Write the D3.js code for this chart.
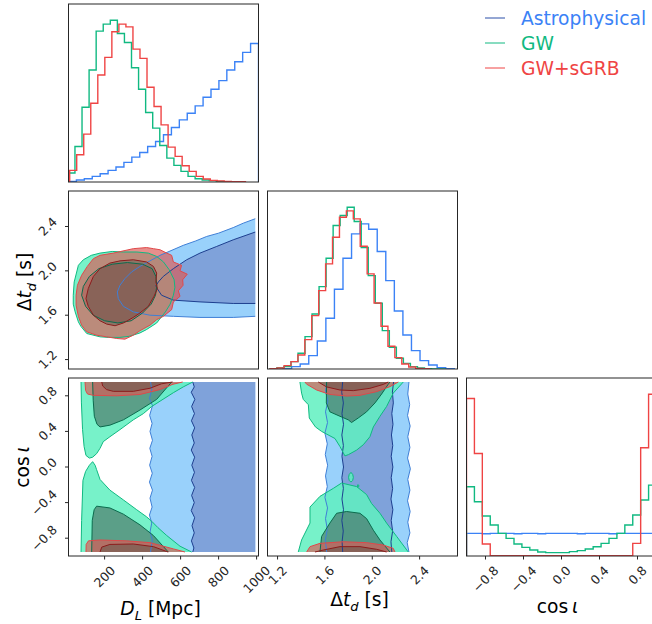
<!DOCTYPE html>
<html>
<head>
<meta charset="utf-8">
<script src="https://cdn.jsdelivr.net/npm/d3@7"></script>
<style>
  html, body { margin: 0; padding: 0; background: #fff; }
  svg { display: block; font-family: "DejaVu Sans", sans-serif; }
</style>
</head>
<body>
<svg id="chart" width="652" height="624"></svg>
<script>
// ---------------- data ----------------
const seriesNames = ["Astrophysical", "GW", "GW+sGRB"];
const seriesKeys = ["astro", "gw", "grb"];

const dlDomain = [10, 1010];
const dtDomain = [1.115, 2.72];
const cosDomain = [-1, 1];
const dlTicks = [200, 400, 600, 800, 1000];
const dtTicks = [1.2, 1.6, 2.0, 2.4];
const cosTicks = [-0.8, -0.4, 0.0, 0.4, 0.8];

// 1-D marginals: bin range [lo, hi] and bin heights
const dlAstroRange = [10, 1010];
const dlAstroHist = [2, 6, 10, 17, 25, 35, 45, 59, 75, 89, 107, 122, 142, 164, 187, 207, 229, 255, 279, 305, 337, 362, 390, 417];
const dlGwRange = [6.8, 899.6];
const dlGwHist = [27, 107, 225, 337, 454, 475, 487, 447, 420, 344, 279, 209, 162, 110, 72, 50, 32, 17, 10, 6, 4, 2, 1, 0];
const dlGrbRange = [16.2, 941.2];
const dlGrbHist = [35, 82, 144, 237, 322, 375, 452, 475, 467, 400, 372, 285, 227, 172, 105, 77, 49, 32, 17, 9, 5, 3, 2, 1, 1];

const dtAstroRange = [1.2466, 2.6926];
const dtAstroHist = [1, 7, 15, 40, 84, 152, 239, 332, 405, 435, 419, 352, 265, 174, 102, 55, 25, 12, 4, 1];
const dtGwRange = [1.1353, 2.619];
const dtGwHist = [1, 4, 7, 22, 47, 97, 165, 247, 332, 430, 460, 485, 442, 364, 280, 197, 115, 65, 32, 17, 7, 3, 1, 0, 0];
const dtGrbRange = [1.1378, 2.4834];
const dtGrbHist = [1, 3, 10, 22, 42, 88, 160, 235, 315, 395, 455, 474, 450, 368, 285, 198, 128, 68, 34, 15, 6, 2, 1];

const cosRange = [-1, 1];
const cosAstroHist = [68, 68, 67, 68, 68, 68, 67, 68, 68, 67, 68, 68, 68, 68, 67, 68, 68, 68, 67, 68, 68, 68, 68, 68];
const cosGwHist = [208, 163, 120, 93, 68, 53, 36, 26, 18, 12, 10, 10, 10, 13, 16, 21, 28, 38, 53, 68, 93, 123, 168, 213];
const cosGrbHist = [473, 308, 36, 1, 1, 1, 1, 1, 1, 1, 1, 1, 1, 1, 1, 1, 1, 1, 1, 1, 1, 38, 325, 486];

// 2-D credible regions (outer, inner), as [x, y] vertices in data units
// panel: D_L vs Δt_d
const dlDtAstroOuter = [[993,2.47],[930,2.43],[877,2.39],[800,2.34],[737,2.31],[680,2.27],[614,2.23],[560,2.19],[492,2.14],[439,2.09],[386,2.04],[342,1.99],[307,1.93],[281,1.87],[267,1.81],[272,1.75],[299,1.68],[351,1.63],[439,1.60],[562,1.59],[702,1.58],[877,1.58],[993,1.59]];
const dlDtAstroInner = [[993,2.35],[877,2.28],[790,2.22],[702,2.16],[632,2.10],[562,2.02],[509,1.95],[483,1.90],[470,1.865],[477,1.84],[500,1.78],[562,1.736],[702,1.72],[877,1.706],[993,1.706]];
const dlDtGwOuter = [[35,1.78],[40,1.90],[62,2.05],[88,2.10],[130,2.14],[176,2.16],[240,2.175],[300,2.17],[370,2.17],[430,2.16],[474,2.13],[510,2.08],[540,2.01],[566,1.92],[570,1.85],[562,1.78],[545,1.70],[520,1.63],[474,1.53],[420,1.47],[386,1.44],[330,1.41],[281,1.40],[220,1.40],[176,1.405],[106,1.435],[75,1.50],[62,1.54],[45,1.63],[35,1.70]];
const dlDtGwInner = [[79,1.78],[88,1.86],[120,1.95],[170,2.02],[240,2.06],[320,2.075],[400,2.06],[450,2.02],[470,1.95],[475,1.87],[468,1.78],[445,1.70],[400,1.62],[340,1.55],[270,1.53],[200,1.55],[140,1.60],[100,1.68]];
const dlDtGrbOuter = [[50,1.78],[57,1.87],[79,1.96],[109,2.04],[141,2.11],[176,2.14],[246,2.16],[351,2.20],[421,2.21],[457,2.20],[492,2.19],[527,2.16],[553,2.14],[562,2.08],[605,2.05],[597,2.00],[635,1.97],[611,1.92],[613,1.87],[588,1.82],[597,1.77],[562,1.72],[553,1.65],[509,1.59],[474,1.56],[439,1.51],[386,1.46],[351,1.42],[307,1.384],[264,1.39],[211,1.405],[158,1.42],[106,1.45],[79,1.51],[62,1.59],[50,1.69]];
const dlDtGrbInner = [[102,1.75],[114,1.84],[141,1.95],[176,2.02],[228,2.07],[281,2.09],[351,2.10],[421,2.08],[457,2.04],[474,1.98],[470,1.90],[478,1.84],[460,1.77],[430,1.68],[386,1.62],[351,1.58],[299,1.53],[255,1.505],[211,1.52],[176,1.55],[141,1.60],[114,1.68]];

// panel: D_L vs cos ι
const dlCosAstroOuter = [[442,0.955],[448,0.87],[436,0.77],[452,0.69],[437,0.58],[450,0.49],[439,0.40],[452,0.30],[438,0.21],[450,0.12],[437,0.02],[451,-0.07],[436,-0.17],[452,-0.26],[439,-0.35],[450,-0.45],[436,-0.54],[448,-0.63],[439,-0.73],[451,-0.82],[442,-0.955],[993,-0.955],[993,0.955]];
const dlCosAstroInner = [[664,0.955],[672,0.90],[656,0.84],[675,0.76],[658,0.68],[673,0.60],[657,0.52],[674,0.44],[659,0.36],[672,0.27],[656,0.19],[674,0.11],[659,0.02],[673,-0.06],[657,-0.15],[674,-0.23],[658,-0.32],[672,-0.40],[656,-0.49],[674,-0.57],[660,-0.66],[672,-0.74],[657,-0.83],[670,-0.91],[664,-0.955],[993,-0.955],[993,0.955]];
const dlCosGwOuterTop = [[76,0.955],[78,0.72],[84,0.42],[92,0.23],[102,0.13],[120,0.10],[137,0.11],[158,0.15],[176,0.21],[193,0.285],[228,0.34],[281,0.42],[351,0.53],[404,0.60],[448,0.68],[492,0.74],[562,0.835],[614,0.90],[664,0.955]];
const dlCosGwOuterBottom = [[76,-0.955],[79,-0.60],[86,-0.15],[100,-0.05],[120,0.02],[137,0.06],[150,0.02],[158,-0.03],[176,-0.14],[228,-0.26],[299,-0.37],[369,-0.48],[421,-0.56],[448,-0.61],[480,-0.68],[527,-0.77],[597,-0.89],[658,-0.955]];
const dlCosGwInnerTop = [[137,0.955],[140,0.75],[146,0.57],[160,0.48],[176,0.45],[228,0.47],[299,0.53],[386,0.64],[474,0.76],[553,0.955]];
const dlCosGwInnerBottom = [[132,-0.955],[135,-0.60],[145,-0.48],[158,-0.44],[228,-0.46],[299,-0.53],[386,-0.65],[457,-0.77],[535,-0.955]];
const dlCosGrbOuterTop = [[97,0.955],[100,0.86],[110,0.82],[141,0.805],[264,0.80],[386,0.815],[492,0.87],[560,0.93],[611,0.955]];
const dlCosGrbInnerTop = [[185,0.955],[190,0.91],[210,0.87],[246,0.85],[351,0.85],[439,0.885],[500,0.935],[558,0.955]];
const dlCosGrbOuterBottom = [[102,-0.955],[103,-0.87],[115,-0.83],[176,-0.82],[316,-0.83],[439,-0.85],[562,-0.92],[623,-0.955]];
const dlCosGrbInnerBottom = [[176,-0.955],[185,-0.90],[228,-0.87],[351,-0.865],[457,-0.895],[527,-0.95],[535,-0.955]];

// panel: Δt_d vs cos ι
const dtCosAstroOuter = [[1.615,0.955],[1.605,0.85],[1.625,0.74],[1.605,0.62],[1.622,0.50],[1.60,0.38],[1.62,0.26],[1.603,0.14],[1.623,0.02],[1.605,-0.10],[1.62,-0.22],[1.60,-0.34],[1.622,-0.46],[1.605,-0.58],[1.62,-0.70],[1.603,-0.82],[1.615,-0.955],[2.31,-0.955],[2.295,-0.85],[2.318,-0.74],[2.30,-0.62],[2.32,-0.50],[2.298,-0.38],[2.318,-0.26],[2.30,-0.14],[2.322,-0.02],[2.298,0.10],[2.318,0.22],[2.30,0.34],[2.32,0.46],[2.298,0.58],[2.316,0.70],[2.30,0.82],[2.31,0.955]];
const dtCosAstroInner = [[1.750,0.955],[1.742,0.84],[1.756,0.72],[1.744,0.60],[1.757,0.48],[1.743,0.36],[1.756,0.24],[1.744,0.12],[1.757,0.00],[1.743,-0.12],[1.756,-0.24],[1.744,-0.36],[1.757,-0.48],[1.743,-0.60],[1.755,-0.72],[1.745,-0.84],[1.750,-0.955],[2.165,-0.955],[2.158,-0.84],[2.172,-0.72],[2.160,-0.60],[2.174,-0.48],[2.158,-0.36],[2.172,-0.24],[2.160,-0.12],[2.174,0.00],[2.160,0.12],[2.173,0.24],[2.162,0.36],[2.175,0.48],[2.165,0.60],[2.178,0.72],[2.170,0.84],[2.180,0.955]];
const dtCosGwOuterTop = [[1.389,0.955],[1.403,0.83],[1.417,0.76],[1.460,0.70],[1.468,0.55],[1.52,0.45],[1.572,0.40],[1.685,0.32],[1.727,0.23],[1.769,0.125],[1.80,0.14],[1.868,0.19],[1.924,0.25],[1.980,0.34],[2.009,0.45],[2.065,0.57],[2.121,0.68],[2.177,0.83],[2.262,0.955]];
const dtCosGwInnerTop = [[1.614,0.955],[1.612,0.72],[1.642,0.62],[1.727,0.57],[1.797,0.53],[1.825,0.50],[1.881,0.55],[1.952,0.62],[2.023,0.72],[2.079,0.82],[2.135,0.93],[2.15,0.955]];
const dtCosGwOuterBottom = [[1.375,-0.955],[1.403,-0.82],[1.474,-0.63],[1.474,-0.45],[1.558,-0.33],[1.671,-0.24],[1.741,-0.18],[1.868,-0.22],[1.952,-0.31],[1.994,-0.41],[2.065,-0.52],[2.121,-0.63],[2.206,-0.78],[2.304,-0.955]];
const dtCosGwInnerBottom = [[1.558,-0.955],[1.572,-0.78],[1.642,-0.63],[1.699,-0.52],[1.783,-0.50],[1.896,-0.52],[1.952,-0.58],[2.009,-0.71],[2.065,-0.82],[2.149,-0.955]];
const dtCosGwIsland = [[1.82,-0.06],[1.835,-0.085],[1.84,-0.115],[1.835,-0.15],[1.82,-0.17],[1.805,-0.15],[1.80,-0.115],[1.805,-0.085]];
const dtCosGwDot = [[1.876,-0.20],[1.886,-0.203],[1.886,-0.222],[1.876,-0.225]];
const dtCosGrbOuterTop = [[1.431,0.955],[1.446,0.93],[1.530,0.865],[1.642,0.815],[1.783,0.797],[1.896,0.805],[2.037,0.847],[2.149,0.903],[2.220,0.955]];
const dtCosGrbInnerTop = [[1.544,0.955],[1.614,0.90],[1.727,0.865],[1.840,0.858],[1.980,0.884],[2.093,0.928],[2.135,0.955]];
const dtCosGrbOuterBottom = [[1.446,-0.955],[1.474,-0.895],[1.558,-0.858],[1.755,-0.84],[1.952,-0.85],[2.093,-0.877],[2.177,-0.914],[2.192,-0.955]];
const dtCosGrbInnerBottom = [[1.516,-0.955],[1.586,-0.933],[1.727,-0.895],[1.896,-0.895],[2.037,-0.925],[2.121,-0.955]];

// ---------------- styles ----------------
const lineColor = { astro: "#3b82f6", gw: "#10b981", grb: "#ef4444" };
const textColor = { astro: "#3b82f6", gw: "#10b981", grb: "#ef4444" };
const legendLine = { astro: "#2b4fa8", gw: "#10b981", grb: "#ef4444" };
const regionStyle = {
  astro: { outer: { fill: "#99d1fb", op: 1.0, line: "#3f7fd6" }, inner: { fill: "#7fa2da", op: 1.0, line: "#1d3f8f" } },
  gw:    { outer: { fill: "#5ff0c0", op: 0.85, line: "#10b981" }, inner: { fill: "#404c48", op: 0.5, line: "#0b6b4d" } },
  grb:   { outer: { fill: "#dc5a55", op: 0.68, line: "#e0484a" }, inner: { fill: "#3b4b3f", op: 0.35, line: "#8b1c1c" } }
};

// ---------------- layout ----------------
const PW = 190, PH = 178;
const colX = [68.5, 267.5, 466.5];
const rowY = [4, 191, 378];
const FONT = "DejaVu Sans";
const tickFont = 12.5;
const labelFont = 18.7;

const svg = d3.select("#chart");
const defs = svg.append("defs");

const xDL = d3.scaleLinear().domain(dlDomain).range([0, PW]);
const xDT = d3.scaleLinear().domain(dtDomain).range([0, PW]);
const xCos = d3.scaleLinear().domain(cosDomain).range([0, PW]);
const yDT = d3.scaleLinear().domain(dtDomain).range([PH, 0]);
const yCos = d3.scaleLinear().domain(cosDomain).range([PH, 0]);

function makePanel(r, c) {
  const g = svg.append("g").attr("transform", `translate(${colX[c]},${rowY[r]})`);
  const id = `clip-${r}-${c}`;
  defs.append("clipPath").attr("id", id).append("rect").attr("width", PW).attr("height", PH);
  const body = g.append("g").attr("clip-path", `url(#${id})`);
  return { g, body };
}
function frame(p) {
  p.g.append("rect").attr("width", PW).attr("height", PH)
    .attr("fill", "none").attr("stroke", "#262626").attr("stroke-width", 1);
}

// step outline of a histogram
function stepPath(range, counts, x, y) {
  const n = counts.length, w = (range[1] - range[0]) / n;
  const p = d3.path();
  p.moveTo(x(range[0]), y(0));
  counts.forEach((v, i) => {
    p.lineTo(x(range[0] + i * w), y(v));
    p.lineTo(x(range[0] + (i + 1) * w), y(v));
  });
  p.lineTo(x(range[1]), y(0));
  return p.toString();
}

function histPanel(p, x, hists) {
  const ymax = 1.1 * d3.max(hists, h => d3.max(h.counts));
  const y = d3.scaleLinear().domain([0, ymax]).range([PH, 0]);
  hists.forEach(h => {
    p.body.append("path").attr("d", stepPath(h.range, h.counts, x, y))
      .attr("fill", "none").attr("stroke", lineColor[h.key]).attr("stroke-width", 1.4)
      .attr("stroke-linejoin", "miter");
  });
}

// filled region + its contour line (line is skipped where the region runs along the grid edge)
function regionFill(p, pts, x, y, st) {
  const line = d3.line().x(d => x(d[0])).y(d => y(d[1]));
  p.body.append("path").attr("d", line(pts) + "Z")
    .attr("fill", st.fill).attr("fill-opacity", st.op).attr("stroke", "none");
}
function regionLine(p, pts, x, y, st, onEdge) {
  const path = d3.path();
  const n = pts.length;
  let pen = false;
  for (let i = 0; i < n; i++) {
    const a = pts[i], b = pts[(i + 1) % n];
    if (onEdge(a) && onEdge(b)) { pen = false; continue; }
    if (!pen) { path.moveTo(x(a[0]), y(a[1])); pen = true; }
    path.lineTo(x(b[0]), y(b[1]));
  }
  p.body.append("path").attr("d", path.toString())
    .attr("fill", "none").attr("stroke", st.line).attr("stroke-width", 1)
    .attr("stroke-linejoin", "round");
}

function contourPanel(p, x, y, layers, onEdge) {
  layers.forEach(L => {
    L.outer.forEach(pts => regionFill(p, pts, x, y, regionStyle[L.key].outer));
    L.inner.forEach(pts => regionFill(p, pts, x, y, regionStyle[L.key].inner));
  });
  layers.forEach(L => {
    L.outer.forEach(pts => regionLine(p, pts, x, y, regionStyle[L.key].outer, onEdge));
    L.inner.forEach(pts => regionLine(p, pts, x, y, regionStyle[L.key].inner, onEdge));
  });
}

// ---------------- panels ----------------
// diagonal: D_L
const p00 = makePanel(0, 0);
histPanel(p00, xDL, [
  { key: "astro", range: dlAstroRange, counts: dlAstroHist },
  { key: "gw", range: dlGwRange, counts: dlGwHist },
  { key: "grb", range: dlGrbRange, counts: dlGrbHist }
]);
frame(p00);

// D_L vs Δt_d
const p10 = makePanel(1, 0);
contourPanel(p10, xDL, yDT, [
  { key: "astro", outer: [dlDtAstroOuter], inner: [dlDtAstroInner] },
  { key: "gw", outer: [dlDtGwOuter], inner: [dlDtGwInner] },
  { key: "grb", outer: [dlDtGrbOuter], inner: [dlDtGrbInner] }
], d => d[0] >= 993);
frame(p10);

// diagonal: Δt_d
const p11 = makePanel(1, 1);
histPanel(p11, xDT, [
  { key: "astro", range: dtAstroRange, counts: dtAstroHist },
  { key: "gw", range: dtGwRange, counts: dtGwHist },
  { key: "grb", range: dtGrbRange, counts: dtGrbHist }
]);
frame(p11);

// D_L vs cos ι
const p20 = makePanel(2, 0);
contourPanel(p20, xDL, yCos, [
  { key: "astro", outer: [dlCosAstroOuter], inner: [dlCosAstroInner] },
  { key: "gw", outer: [dlCosGwOuterTop, dlCosGwOuterBottom], inner: [dlCosGwInnerTop, dlCosGwInnerBottom] },
  { key: "grb", outer: [dlCosGrbOuterTop, dlCosGrbOuterBottom], inner: [dlCosGrbInnerTop, dlCosGrbInnerBottom] }
], d => Math.abs(d[1]) >= 0.955 || d[0] >= 993);
frame(p20);

// Δt_d vs cos ι
const p21 = makePanel(2, 1);
contourPanel(p21, xDT, yCos, [
  { key: "astro", outer: [dtCosAstroOuter], inner: [dtCosAstroInner] },
  { key: "gw", outer: [dtCosGwOuterTop, dtCosGwOuterBottom, dtCosGwIsland, dtCosGwDot], inner: [dtCosGwInnerTop, dtCosGwInnerBottom] },
  { key: "grb", outer: [dtCosGrbOuterTop, dtCosGrbOuterBottom], inner: [dtCosGrbInnerTop, dtCosGrbInnerBottom] }
], d => Math.abs(d[1]) >= 0.955);
frame(p21);

// diagonal: cos ι
const p22 = makePanel(2, 2);
histPanel(p22, xCos, [
  { key: "astro", range: cosRange, counts: cosAstroHist },
  { key: "gw", range: cosRange, counts: cosGwHist },
  { key: "grb", range: cosRange, counts: cosGrbHist }
]);
frame(p22);

// ---------------- axes ----------------
const TICK = 3.5;
function xTicks(p, x, ticks, fmt) {
  ticks.forEach(t => {
    const tx = x(t);
    p.g.append("line").attr("x1", tx).attr("x2", tx).attr("y1", PH).attr("y2", PH + TICK)
      .attr("stroke", "#262626").attr("stroke-width", 1);
    const txt = p.g.append("text").text(fmt(t))
      .attr("font-family", FONT).attr("font-size", tickFont).attr("fill", "#262626")
      .attr("text-anchor", "middle").attr("dominant-baseline", "central");
    const L = txt.node().getComputedTextLength();
    const half = (L + 0.75 * tickFont) / (2 * Math.SQRT2);
    txt.attr("transform", `translate(${tx},${PH + TICK + 5.5 + half}) rotate(-45)`);
  });
}
function yTicks(p, y, ticks, fmt) {
  ticks.forEach(t => {
    const ty = y(t);
    p.g.append("line").attr("x1", -TICK).attr("x2", 0).attr("y1", ty).attr("y2", ty)
      .attr("stroke", "#262626").attr("stroke-width", 1);
    const txt = p.g.append("text").text(fmt(t))
      .attr("font-family", FONT).attr("font-size", tickFont).attr("fill", "#262626")
      .attr("text-anchor", "middle").attr("dominant-baseline", "central");
    const L = txt.node().getComputedTextLength();
    const half = (L + 0.75 * tickFont) / (2 * Math.SQRT2);
    txt.attr("transform", `translate(${-TICK - 7 - half},${ty}) rotate(-45)`);
  });
}
const fmtInt = d3.format("d");
const fmt1 = d3.format(".1f");
yTicks(p10, yDT, dtTicks, fmt1);
yTicks(p20, yCos, cosTicks, fmt1);
xTicks(p20, xDL, dlTicks, fmtInt);
xTicks(p21, xDT, dtTicks, fmt1);
xTicks(p22, xCos, cosTicks, fmt1);

// ---------------- axis labels ----------------
function mathLabel(sel, parts) {
  parts.forEach(pt => {
    const ts = sel.append("tspan").text(pt.t);
    if (pt.it) ts.attr("font-style", "italic");
    if (pt.sub) ts.attr("font-size", labelFont * 0.7).attr("dy", 4.5);
    if (pt.up) ts.attr("dy", -4.5);
  });
}
function label(x, y, rot, parts) {
  const t = svg.append("text")
    .attr("font-family", FONT).attr("font-size", labelFont).attr("fill", "#000")
    .attr("text-anchor", "middle")
    .attr("transform", `translate(${x},${y}) rotate(${rot})`);
  mathLabel(t, parts);
}
const dlLabel = [{ t: "D", it: true }, { t: "L", it: true, sub: true }, { t: " [Mpc]", up: true }];
const dtLabel = [{ t: "Δ" }, { t: "t", it: true }, { t: "d", it: true, sub: true }, { t: " [s]", up: true }];
const cosLabel = [{ t: "cos\u2009" }, { t: "ι", it: true }];
label(colX[0] + PW / 2 - 3, 615, 0, dlLabel);
label(colX[1] + PW / 2 - 3, 606, 0, dtLabel);
label(colX[2] + PW / 2 - 4, 613, 0, cosLabel);
label(31, rowY[1] + PH / 2 + 2, -90, dtLabel);
label(29, rowY[2] + PH / 2, -90, cosLabel);

// ---------------- legend ----------------
const legend = svg.append("g");
seriesKeys.forEach((k, i) => {
  const cy = 18 + i * 25;
  legend.append("line").attr("x1", 485).attr("x2", 505).attr("y1", cy).attr("y2", cy)
    .attr("stroke", legendLine[k]).attr("stroke-width", 1);
  legend.append("text").text(seriesNames[i])
    .attr("x", 521).attr("y", cy).attr("dominant-baseline", "central")
    .attr("font-family", FONT).attr("font-size", labelFont).attr("fill", textColor[k]);
});
</script>
</body>
</html>
